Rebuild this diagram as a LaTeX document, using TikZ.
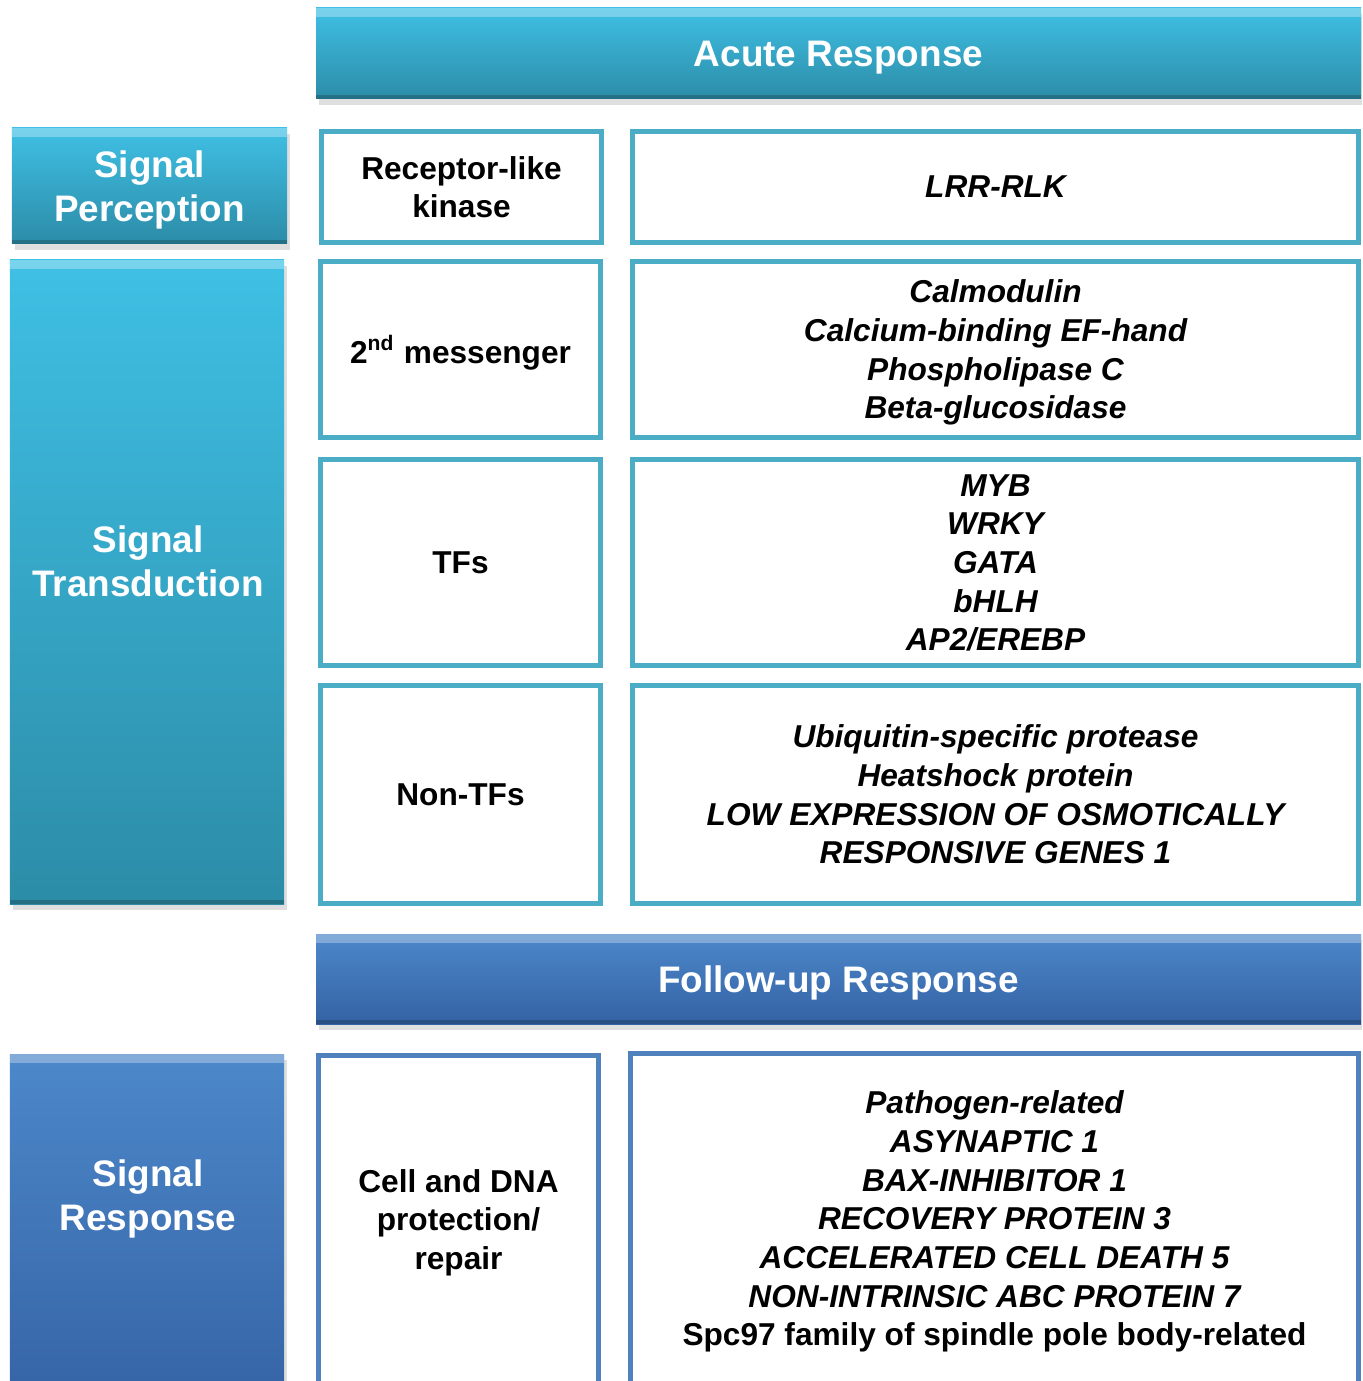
\documentclass[tikz,border=0pt]{standalone}
\usepackage{fontspec}
\setmainfont{Liberation Sans}
\usetikzlibrary{shadows}

\definecolor{cyantop}{HTML}{3FC0E5}
\definecolor{cyanbot}{HTML}{2C8CA7}
\definecolor{bluetop}{HTML}{4C88CA}
\definecolor{bluebot}{HTML}{3462A4}
\definecolor{cyanline}{HTML}{4BACC6}
\definecolor{blueline}{HTML}{4F81BD}

\begin{document}
\begin{tikzpicture}[
  bar/.style   ={draw=none, inner sep=0, text=white, align=center, text depth=0pt,
                 font=\fontsize{10.5}{12.5}\selectfont\bfseries,
                 drop shadow={shadow xshift=0.03cm, shadow yshift=-0.06cm, opacity=0.25},
                 path picture={
                   \fill[white, opacity=0.3] (path picture bounding box.north west)
                     rectangle ([yshift=-0.09cm]path picture bounding box.north east);
                   \fill[black, opacity=0.2] (path picture bounding box.south west)
                     rectangle ([yshift=0.04cm]path picture bounding box.south east);}},
  cyanbar/.style={bar, top color=cyantop, bottom color=cyanbot},
  bluebar/.style={bar, top color=bluetop, bottom color=bluebot},
  lbl/.style   ={text=white, align=center, font=\fontsize{10.5}{12.5}\selectfont\bfseries},
  cell/.style  ={draw=cyanline, line width=1.42pt, fill=white, inner sep=0, align=center,
                 text depth=0pt, font=\fontsize{9}{11}\selectfont\bfseries},
  gene/.style  ={cell, font=\fontsize{9}{11}\selectfont\bfseries\itshape},
  cellb/.style ={cell, draw=blueline},
  geneb/.style ={gene, draw=blueline}]

  \useasboundingbox (0,0) rectangle (13.62,-13.81);
  \clip (0,0) rectangle (13.62,-13.81);

  % ---------------- acute response ----------------
  \node[cyanbar, minimum width=10.45cm, minimum height=0.91cm] (acute) at (8.385,-0.535) {Acute Response};

  % ---------------- signal perception ----------------
  \node[cyanbar, minimum width=2.75cm, minimum height=1.16cm] (percep) at (1.495,-1.86) {Signal\\Perception};
  \node[cell, minimum width=2.80cm, minimum height=1.11cm] (rlk)  at (4.615,-1.87) {Receptor-like\\kinase};
  \node[gene, minimum width=7.26cm, minimum height=1.11cm] (lrr)  at (9.955,-1.87) {LRR-RLK};

  % ---------------- signal transduction ----------------
  \node[cyanbar, minimum width=2.74cm, minimum height=6.44cm] (trans) at (1.47,-5.82) {};
  \node[lbl] (translbl) at (1.48,-5.61) {Signal\\Transduction};

  \node[cell, minimum width=2.80cm, minimum height=1.76cm] (msgr) at (4.605,-3.495) {2\textsuperscript{nd} messenger};
  \node[gene, minimum width=7.26cm, minimum height=1.76cm] (calm) at (9.955,-3.495)
    {Calmodulin\\Calcium-binding EF-hand\\Phospholipase C\\Beta-glucosidase};

  \node[cell, minimum width=2.80cm, minimum height=2.06cm] (tfs)  at (4.605,-5.625) {TFs};
  \node[gene, minimum width=7.26cm, minimum height=2.06cm] (myb)  at (9.955,-5.625)
    {MYB\\WRKY\\GATA\\bHLH\\AP2/EREBP};

  \node[cell, minimum width=2.80cm, minimum height=2.18cm] (nontf) at (4.605,-7.945) {Non-TFs};
  \node[gene, minimum width=7.26cm, minimum height=2.18cm] (ubq)   at (9.955,-7.945)
    {Ubiquitin-specific protease\\Heatshock protein\\LOW EXPRESSION OF OSMOTICALLY\\RESPONSIVE GENES 1};

  % ---------------- follow-up response ----------------
  \node[bluebar, minimum width=10.45cm, minimum height=0.90cm] (follow) at (8.385,-9.79) {Follow-up Response};

  % ---------------- signal response ----------------
  \node[bluebar, minimum width=2.74cm, minimum height=3.66cm] (resp) at (1.47,-12.37) {};
  \node[lbl] (resplbl) at (1.48,-11.99) {Signal\\Response};

  \node[cellb, minimum width=2.80cm, minimum height=3.28cm] (dna)  at (4.585,-12.195) {Cell and DNA\\protection/\\repair};
  \node[geneb, minimum width=7.28cm, minimum height=3.30cm] (path) at (9.945,-12.185)
    {Pathogen-related\\ASYNAPTIC 1\\BAX-INHIBITOR 1\\RECOVERY PROTEIN 3\\ACCELERATED CELL DEATH 5\\NON-INTRINSIC ABC PROTEIN 7\\\upshape Spc97 family of spindle pole body-related};
\end{tikzpicture}
\end{document}
